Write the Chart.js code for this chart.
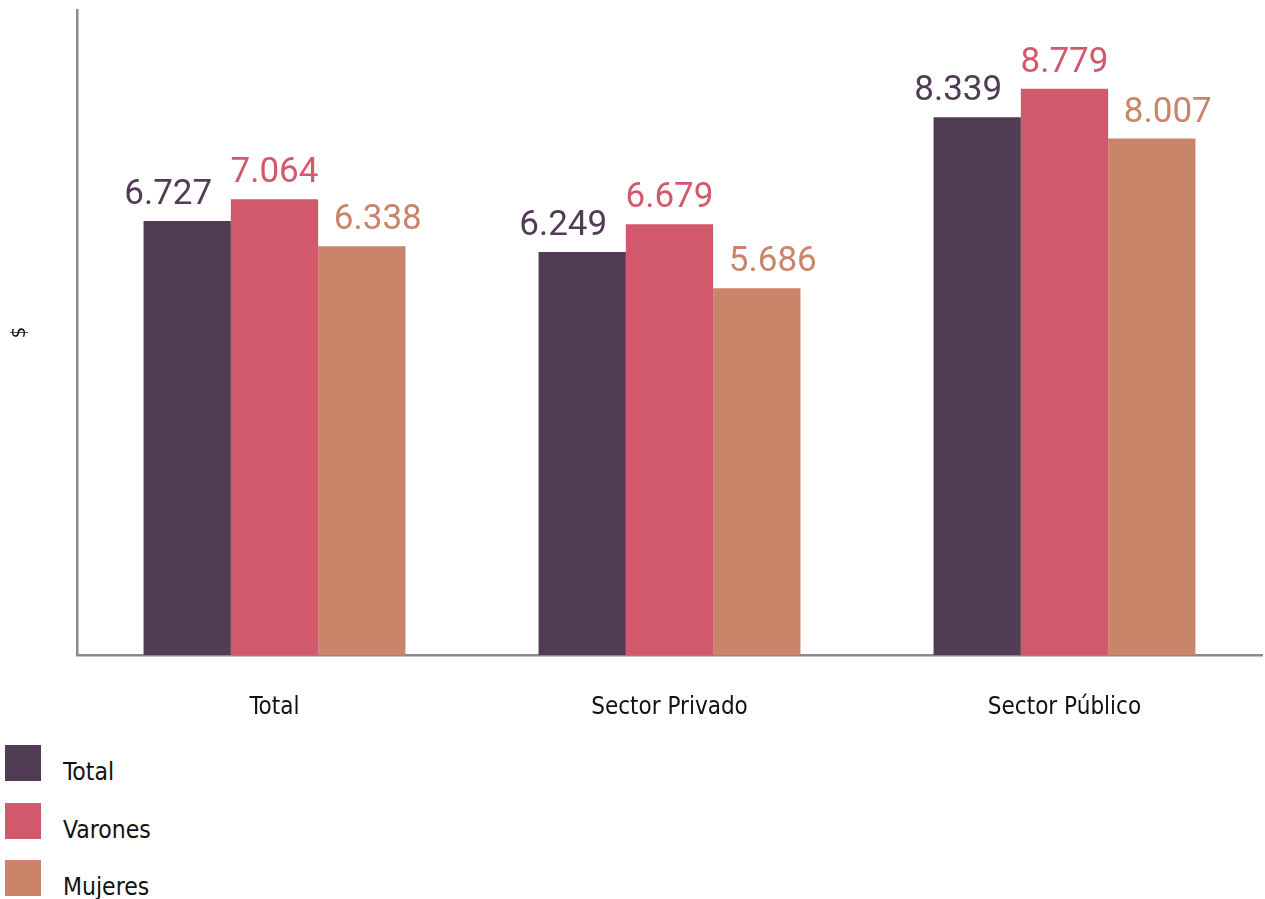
<!DOCTYPE html>
<html>
<head>
<meta charset="utf-8">
<script src="https://cdn.jsdelivr.net/npm/chart.js@4"></script>
<style>
    body { margin: 0; background: #fff; }
    #wrap { position: relative; width: 1265px; height: 899px; overflow: hidden; }
    #chart { position: absolute; left: 0; top: 0; }
    .legend_item { position: absolute; left: 5px; height: 40px; }
    .legend_box { position: absolute; left: 0; top: 0; width: 36px; height: 36px; }
    .legend_text { position: absolute; left: 58px; top: 13px; white-space: nowrap;
        font: 24.5px/28px "Liberation Sans Narrow", "DejaVu Sans Condensed", sans-serif; color: #111; }
</style>
</head>
<body>
<div id="wrap">
    <canvas id="chart" width="1265" height="740"></canvas>
    <div id="legend"></div>
</div>
<script>
const categories = ['Total', 'Sector Privado', 'Sector Público'];
const series_names = ['Total', 'Varones', 'Mujeres'];
const total_values = [6727, 6249, 8339];
const varones_values = [7064, 6679, 8779];
const mujeres_values = [6338, 5686, 8007];
const y_ticks = [0, 10000];

const colors = ['#523c55', '#d2596b', '#c9846a'];
const label_shift = [-19, 0, 16];
const narrow_font = '"Liberation Sans Narrow", "DejaVu Sans Condensed", sans-serif';

function formatNumber(v) {
    return String(v).replace(/\B(?=(\d{3})+(?!\d))/g, '.');
}

const valueLabels = {
    id: 'valueLabels',
    afterDatasetsDraw(chart) {
        const ctx = chart.ctx;
        ctx.save();
        ctx.font = '35px Roboto, sans-serif';
        ctx.textAlign = 'center';
        ctx.textBaseline = 'alphabetic';
        chart.data.datasets.forEach((ds, i) => {
            const meta = chart.getDatasetMeta(i);
            ctx.fillStyle = colors[i];
            meta.data.forEach((bar, j) => {
                ctx.fillText(formatNumber(ds.data[j]), bar.x + label_shift[i], bar.y - 17);
            });
        });
        ctx.restore();
    }
};

const datasets = [total_values, varones_values, mujeres_values].map((values, i) => ({
    label: series_names[i],
    data: values,
    backgroundColor: colors[i],
    borderWidth: 0,
    categoryPercentage: 0.663,
    barPercentage: 1.0
}));

const chart = new Chart(document.getElementById('chart'), {
    type: 'bar',
    data: { labels: categories, datasets: datasets },
    options: {
        responsive: false,
        animation: false,
        layout: { padding: { top: 10, right: 3, left: 0, bottom: 0 } },
        plugins: {
            legend: { display: false },
            tooltip: { enabled: false }
        },
        scales: {
            x: {
                grid: { display: false, drawTicks: false, tickLength: 0 },
                border: { display: true, color: '#8a8a8a', width: 2.5 },
                ticks: {
                    color: '#111',
                    padding: 38,
                    font: { family: narrow_font, size: 24 }
                },
                afterFit: (scale) => { scale.height = 85; }
            },
            y: {
                min: y_ticks[0],
                max: y_ticks[1],
                grid: { display: false, drawTicks: false, tickLength: 0 },
                border: { display: true, color: '#8a8a8a', width: 2.5 },
                ticks: { display: false },
                title: {
                    display: true,
                    text: '$',
                    color: '#111',
                    font: { family: narrow_font, size: 20 },
                    padding: { top: 8, bottom: 0 }
                },
                afterFit: (scale) => { scale.width = 77; }
            }
        }
    },
    plugins: [valueLabels]
});

// legend as html, built from the chart datasets
const legend = document.getElementById('legend');
chart.data.datasets.forEach((ds, i) => {
    let item = document.createElement('div');
    item.className = 'legend_item';
    item.style.top = (745 + i * 57.5) + 'px';
    item.innerHTML = `<span class="legend_box" style="background:${ds.backgroundColor}"></span><span class="legend_text">${ds.label}</span>`;
    legend.appendChild(item);
});
</script>
</body>
</html>
